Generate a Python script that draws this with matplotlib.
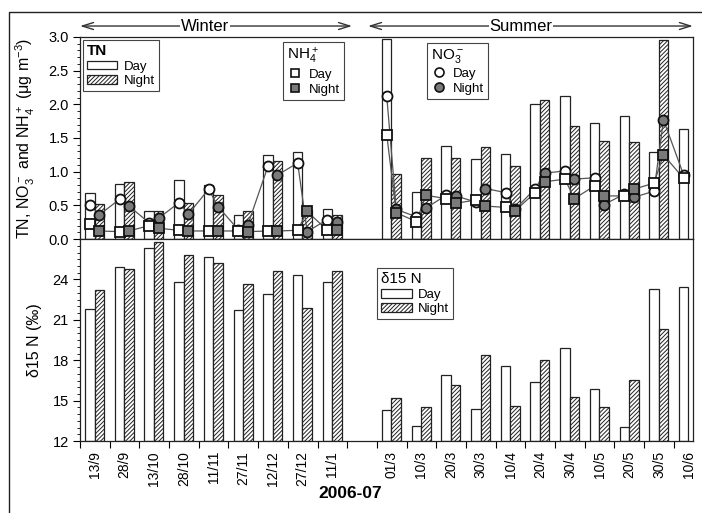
import numpy as np
import matplotlib.pyplot as plt
import matplotlib.transforms as mtransforms
from matplotlib.patches import Patch
from matplotlib.lines import Line2D
from matplotlib.ticker import MultipleLocator

plt.rcParams['font.family'] = ['Liberation Sans', 'DejaVu Sans']
plt.rcParams['mathtext.default'] = 'regular'
plt.rcParams['hatch.linewidth'] = 0.7

# sampling dates, winter 2006 and summer 2007
winter_dates = ['13/9', '28/9', '13/10', '28/10', '11/11', '27/11', '12/12', '27/12', '11/1']
summer_dates = ['01/3', '10/3', '20/3', '30/3', '10/4', '20/4', '30/4', '10/5', '20/5', '30/5', '10/6']

# TN (ug m-3)
tn_day_w = [0.69, 0.82, 0.41, 0.88, 0.80, 0.36, 1.25, 1.29, 0.44]
tn_night_w = [0.52, 0.84, 0.41, 0.54, 0.66, 0.42, 1.16, 0.43, 0.36]
tn_day_s = [2.97, 0.70, 1.38, 1.19, 1.26, 2.01, 2.12, 1.72, 1.83, 1.29, 1.63]
tn_night_s = [0.97, 1.21, 1.21, 1.37, 1.08, 2.06, 1.68, 1.45, 1.44, 2.96, np.nan]

# NO3- (ug m-3)
no3_day_w = [0.51, 0.59, 0.24, 0.54, 0.74, 0.14, 1.08, 1.13, 0.29]
no3_night_w = [0.36, 0.49, 0.31, 0.37, 0.48, 0.21, 0.95, 0.11, 0.25]
no3_day_s = [2.12, 0.33, 0.65, 0.55, 0.69, 0.75, 1.01, 0.91, 0.67, 0.71, 0.95]
no3_night_s = [0.44, 0.46, 0.64, 0.75, 0.44, 0.98, 0.89, 0.51, 0.62, 1.77, np.nan]

# NH4+ (ug m-3)
nh4_day_w = [0.23, 0.11, 0.20, 0.13, 0.12, 0.12, 0.12, 0.13, 0.13]
nh4_night_w = [0.12, 0.12, 0.16, 0.12, 0.12, 0.11, 0.12, 0.41, 0.13]
nh4_day_s = [1.55, 0.26, 0.60, 0.58, 0.47, 0.69, 0.89, 0.79, 0.64, 0.83, 0.90]
nh4_night_s = [0.39, 0.65, 0.53, 0.49, 0.42, 0.85, 0.60, 0.64, 0.74, 1.25, np.nan]

# delta 15N (per mil)
d15n_day_w = [21.8, 24.9, 26.3, 23.8, 25.7, 21.7, 22.9, 24.3, 23.8]
d15n_night_w = [23.2, 24.8, 26.8, 25.8, 25.2, 23.7, 24.65, 21.9, 24.6]
d15n_day_s = [14.3, 13.1, 16.9, 14.4, 17.6, 16.4, 18.9, 15.9, 13.05, 23.3, 23.45]
d15n_night_s = [15.2, 14.55, 16.2, 18.4, 14.6, 18.0, 15.3, 14.5, 16.55, 20.3, np.nan]

pos_w = np.arange(len(winter_dates))
pos_s = np.arange(len(summer_dates)) + len(winter_dates) + 1
bw = 0.32
dx, nx = 0.33, 0.65
hatch = '////////'
gray = '#7a7a7a'
line_c = '#555555'

fig = plt.figure(figsize=(7.02, 5.13), dpi=100)
ax1 = fig.add_axes([0.114, 0.534, 0.873, 0.394])
ax2 = fig.add_axes([0.114, 0.140, 0.873, 0.394])


def bars(ax, pos, day, night, base=0):
    day = np.asarray(day) - base
    night = np.asarray(night) - base
    ax.bar(pos + dx, day, bw, bottom=base, color='white', edgecolor='#222222', lw=0.9, zorder=2)
    ax.bar(pos + nx, night, bw, bottom=base, color='white', edgecolor='#222222', lw=0.9,
           hatch=hatch, zorder=2)


def series(ax, pos, day, night, marker):
    xs, ys = [], []
    for p, d, n in zip(pos, day, night):
        xs += [p + dx, p + nx]
        ys += [d, n]
    xs, ys = np.array(xs), np.array(ys)
    ok = ~np.isnan(ys)
    ax.plot(xs[ok], ys[ok], color=line_c, lw=0.9, zorder=3)
    ms = 7.2 if marker == 'o' else 6.8
    ax.plot(pos + dx, day, ls='none', marker=marker, ms=ms, mfc='white', mec='#111111', mew=1.3, zorder=4)
    ax.plot(pos + nx, night, ls='none', marker=marker, ms=ms, mfc=gray, mec='#111111', mew=1.3, zorder=4)


# top panel: TN bars with NO3- and NH4+
bars(ax1, pos_w, tn_day_w, tn_night_w)
bars(ax1, pos_s, tn_day_s, tn_night_s)
for pos, d, n in [(pos_w, no3_day_w, no3_night_w), (pos_s, no3_day_s, no3_night_s)]:
    series(ax1, pos, d, n, 'o')
for pos, d, n in [(pos_w, nh4_day_w, nh4_night_w), (pos_s, nh4_day_s, nh4_night_s)]:
    series(ax1, pos, d, n, 's')

# bottom panel: delta 15N
bars(ax2, pos_w, d15n_day_w, d15n_night_w, base=12)
bars(ax2, pos_s, d15n_day_s, d15n_night_s, base=12)

xmax = 20.64
edges = np.r_[np.arange(len(winter_dates) + 1), pos_s]
centers = np.r_[pos_w, pos_s] + 0.5
for ax in (ax1, ax2):
    ax.set_xlim(0, xmax)
    ax.set_xticks(edges, minor=True)
    ax.tick_params(axis='x', which='minor', direction='out', length=5, width=0.8)
    ax.tick_params(axis='y', which='major', direction='out', length=5, width=0.8, labelsize=10.5, pad=3)
    ax.tick_params(axis='y', which='minor', direction='out', length=2.5, width=0.6)
    for s in ax.spines.values():
        s.set_linewidth(0.9)
        s.set_color('#222222')

ax1.set_xticks([])
ax1.set_ylim(0, 3.0)
ax1.yaxis.set_major_locator(MultipleLocator(0.5))
ax1.yaxis.set_minor_locator(MultipleLocator(0.1))
ax1.yaxis.set_major_formatter(plt.FormatStrFormatter('%.1f'))
ax1.set_ylabel('TN, NO$_3^-$ and NH$_4^+$ (μg m$^{-3}$)', fontsize=11.5)
ax1.yaxis.set_label_coords(-0.070, 0.5)

ax2.set_ylim(12, 27)
ax2.set_yticks([12, 15, 18, 21, 24])
ax2.yaxis.set_minor_locator(MultipleLocator(0.5))
ax2.set_xticks(centers)
ax2.set_xticklabels(winter_dates + summer_dates, rotation=90, fontsize=10)
ax2.tick_params(axis='x', which='major', length=0, pad=7)
ax2.set_ylabel('δ15 N (‰)', fontsize=11.5)
ax2.yaxis.set_label_coords(-0.062, 0.5)
fig.text(350 / 702, 1 - 493 / 513, '2006-07', ha='center', va='center', fontsize=12.5, fontweight='bold')

# legends
box = [Patch(facecolor='white', edgecolor='#222222', lw=0.9),
       Patch(facecolor='white', edgecolor='#222222', lw=0.9, hatch=hatch)]
leg_kw = dict(loc='upper left', borderaxespad=0, fancybox=False, framealpha=1,
              edgecolor='#444444', fontsize=9.5, alignment='left', borderpad=0.3,
              labelspacing=0.2, handletextpad=0.5)
l1 = ax1.legend(box, ['Day', 'Night'], title='TN', bbox_to_anchor=(0.005, 0.985),
                handlelength=2.3, handleheight=0.65, title_fontproperties={'size': 11, 'weight': 'bold'},
                **leg_kw)
sq = [Line2D([], [], ls='none', marker='s', ms=6, mfc='white', mec='#111111', mew=1.2),
      Line2D([], [], ls='none', marker='s', ms=6, mfc=gray, mec='#111111', mew=1.2)]
l2 = ax1.legend(sq, ['Day', 'Night'], title='NH$_4^+$', bbox_to_anchor=(0.331, 0.975),
                handlelength=1.2, title_fontproperties={'size': 11}, **leg_kw)
ci = [Line2D([], [], ls='none', marker='o', ms=6.5, mfc='white', mec='#111111', mew=1.2),
      Line2D([], [], ls='none', marker='o', ms=6.5, mfc=gray, mec='#111111', mew=1.2)]
l3 = ax1.legend(ci, ['Day', 'Night'], title='NO$_3^-$', bbox_to_anchor=(0.566, 0.970),
                handlelength=1.2, title_fontproperties={'size': 11}, **leg_kw)
ax1.add_artist(l1)
ax1.add_artist(l2)
for lg in (l1, l2, l3):
    lg.set_zorder(6)
    lg.get_frame().set_linewidth(0.8)
l4 = ax2.legend(box, ['Day', 'Night'], title='δ15 N', bbox_to_anchor=(0.485, 0.856),
                handlelength=2.3, handleheight=0.65, title_fontproperties={'size': 11}, **leg_kw)
l4.get_frame().set_linewidth(0.8)

# season arrows above the top panel
trans = mtransforms.blended_transform_factory(ax1.transData, ax1.transAxes)
ya = 1.054
for x0, x1, xt, name in [(0.0, 9.16, 4.2, 'Winter'), (9.7, xmax, 14.85, 'Summer')]:
    ax1.annotate('', xy=(x0, ya), xytext=(x1, ya), xycoords=trans, textcoords=trans,
                 arrowprops=dict(arrowstyle='<->,head_length=0.8,head_width=0.25', color='#333333',
                                 lw=1.0, shrinkA=0, shrinkB=0), annotation_clip=False)
    ax1.text(xt, ya, name, transform=trans, ha='center', va='center', fontsize=12,
             bbox=dict(facecolor='white', edgecolor='none', pad=0.5), clip_on=False)

# outer frame lines
fig.add_artist(Line2D([9 / 702, 9 / 702, 1], [0, 1 - 12 / 513, 1 - 12 / 513],
                      transform=fig.transFigure, color='#222222', lw=1.0))

fig.savefig('out.png', dpi=100)
